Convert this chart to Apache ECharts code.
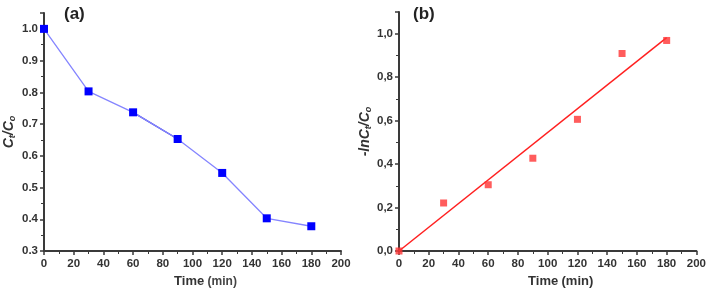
<!DOCTYPE html>
<html><head><meta charset="utf-8">
<script src="https://cdn.jsdelivr.net/npm/echarts@6/dist/echarts.min.js"></script>
<style>html,body{margin:0;padding:0;background:#fff}#c{width:709px;height:293px}</style>
</head><body><div id="c"></div>
<script>
var timeA = [0, 30, 60, 90, 120, 150, 180];
var ratioA = [1.0, 0.803, 0.737, 0.653, 0.546, 0.403, 0.378];
var timeB = [0, 30, 60, 90, 120, 150, 180];
var lnB = [0.0, 0.221, 0.305, 0.427, 0.606, 0.909, 0.969];
var fitX = [0, 180];
var fitY = [0.0, 0.982];
var xTicks = [0, 20, 40, 60, 80, 100, 120, 140, 160, 180, 200];

function pairs(xs, ys) { return xs.map(function (x, i) { return [x, ys[i]]; }); }

var FONT = 'Liberation Sans, Arial, sans-serif';
var axisLineStyle = { color: '#3a3a3a', width: 2 };
function xAxis(gi) {
  return {
    type: 'value', gridIndex: gi, min: xTicks[0], max: xTicks[xTicks.length - 1], interval: xTicks[1] - xTicks[0],
    axisLine: { show: true, onZero: false, lineStyle: axisLineStyle },
    axisTick: { show: true, length: 4, lineStyle: { color: '#3a3a3a', width: 1.5 } },
    minorTick: { show: true, splitNumber: 2, length: 3, lineStyle: { color: '#3a3a3a', width: 1 } },
    splitLine: { show: false },
    axisLabel: { color: '#333', fontFamily: FONT, fontWeight: 'bold', fontSize: 11.5, margin: 7 },
    name: gi === 0 ? '{t|Time} {m|(min)}' : '{t|Time} {t|(min)}',
    nameLocation: 'middle', nameGap: 24,
    nameTextStyle: {
      padding: [0, 0, 0, 26],
      rich: {
        t: { fontFamily: FONT, fontWeight: 'bold', fontSize: 13, color: '#333' },
        m: { fontFamily: FONT, fontWeight: 'bold', fontSize: 12, color: '#444' }
      }
    }
  };
}
var nameRich = {
  c: { fontFamily: FONT, fontWeight: 'bold', fontStyle: 'italic', fontSize: 14, color: '#333' },
  s: { fontFamily: FONT, fontWeight: 'bold', fontStyle: 'italic', fontSize: 9, color: '#333', verticalAlign: 'bottom', padding: [6, 0, 0, 0] }
};

var option = {
  animation: false,
  backgroundColor: '#fff',
  grid: [
    { left: 44, right: 368, top: 13, bottom: 39 },
    { left: 399, right: 11, top: 12, bottom: 40 }
  ],
  title: [
    { text: '(a)', left: 59, top: 1, textStyle: { fontFamily: FONT, fontWeight: 'bold', fontSize: 17, color: '#222' } },
    { text: '(b)', left: 408, top: 1, textStyle: { fontFamily: FONT, fontWeight: 'bold', fontSize: 17, color: '#222' } }
  ],
  xAxis: [xAxis(0), xAxis(1)],
  yAxis: [
    {
      type: 'value', gridIndex: 0, min: 0.3, max: 1.05, interval: 0.1,
      axisLine: { show: true, lineStyle: axisLineStyle },
      axisTick: { show: true, length: 4, lineStyle: { color: '#3a3a3a', width: 1.5 } },
      minorTick: { show: true, splitNumber: 2, length: 3, lineStyle: { color: '#3a3a3a', width: 1 } },
      splitLine: { show: false },
      axisLabel: { color: '#333', fontFamily: FONT, fontWeight: 'bold', fontSize: 11.5, margin: 6, showMaxLabel: false,
        formatter: function (v) { return v.toFixed(1); } },
      name: '{c|C}{s|t}{c|/C}{s|o}', nameLocation: 'middle', nameGap: 27,
      nameTextStyle: { rich: nameRich }
    },
    {
      type: 'value', gridIndex: 1, min: 0, max: 1.1, interval: 0.2,
      axisLine: { show: true, lineStyle: axisLineStyle },
      axisTick: { show: true, length: 4, lineStyle: { color: '#3a3a3a', width: 1.5 } },
      minorTick: { show: true, splitNumber: 2, length: 3, lineStyle: { color: '#3a3a3a', width: 1 } },
      splitLine: { show: false },
      axisLabel: { color: '#333', fontFamily: FONT, fontWeight: 'bold', fontSize: 11.5, margin: 6, showMaxLabel: false,
        formatter: function (v) { return v.toFixed(1).replace('.', ','); } },
      name: '{c|-lnC}{s|t}{c|/C}{s|o}', nameLocation: 'middle', nameGap: 26,
      nameTextStyle: { rich: nameRich }
    }
  ],
  series: [
    {
      type: 'line', xAxisIndex: 0, yAxisIndex: 0, data: pairs(timeA, ratioA),
      lineStyle: { color: '#8585ff', width: 1.3 },
      symbol: 'rect', symbolSize: 8, itemStyle: { color: '#0000ff' }, z: 3
    },
    {
      type: 'line', xAxisIndex: 0, yAxisIndex: 0, data: pairs(timeA.slice(2, 4), ratioA.slice(2, 4)),
      lineStyle: { color: '#2a2ad0', width: 1.3 }, symbol: 'none', z: 2
    },
    {
      type: 'line', xAxisIndex: 1, yAxisIndex: 1, data: pairs(fitX, fitY),
      lineStyle: { color: '#ff2020', width: 1.5 }, symbol: 'none', z: 2
    },
    {
      type: 'scatter', xAxisIndex: 1, yAxisIndex: 1, data: pairs(timeB, lnB),
      symbol: 'rect', symbolSize: 7, itemStyle: { color: '#ff3333' }, z: 3
    }
  ]
};
var chart = echarts.init(document.getElementById('c'), null, { renderer: 'canvas' });
chart.setOption(option);
</script>
</body></html>
